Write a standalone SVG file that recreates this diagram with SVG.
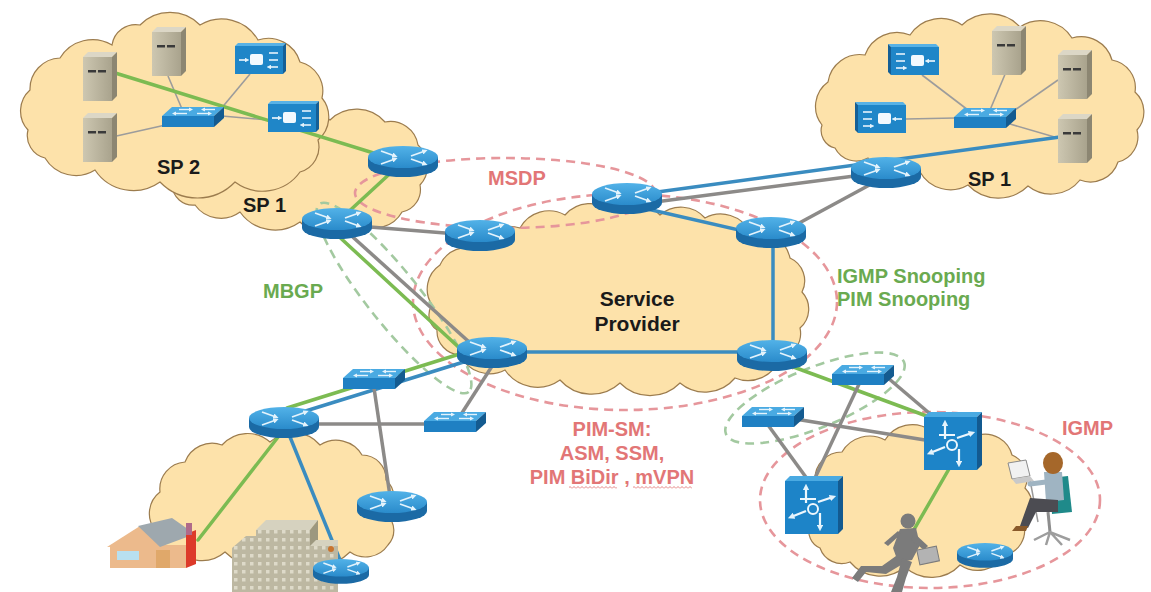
<svg xmlns="http://www.w3.org/2000/svg" width="1151" height="592" viewBox="0 0 1151 592">
<style>
  .cloud{fill:#fde2aa;stroke:#9c7c4e;stroke-width:1.2}
  .g{stroke:#7cbb52;stroke-width:3.5;fill:none;stroke-linecap:round}
  .b{stroke:#3a8cc0;stroke-width:3.5;fill:none}
  .k{stroke:#8c8a88;stroke-width:3.5;fill:none}
  .t{stroke:#9c9c9c;stroke-width:1.6;fill:none}
  .dr{fill:none;stroke:#e6969b;stroke-width:2.6;stroke-dasharray:9 6}
  .dg{fill:none;stroke:#a3c9a0;stroke-width:2.6;stroke-dasharray:9 6}
  .lbl{font-family:"Liberation Sans",Arial,sans-serif;font-weight:bold;font-size:20px}
  .red{fill:#e27676}
  .grn{fill:#6aaa50}
  .blk{fill:#1a1a1a}
</style>
<defs>
  <marker id="ah" viewBox="0 0 4 4" refX="2" refY="2" markerWidth="3" markerHeight="3" orient="auto">
    <path d="M0,0 L4,2 L0,4 z" fill="#e4f3fc"/>
  </marker>
  <linearGradient id="rtTop" x1="0" y1="0" x2="0" y2="1">
    <stop offset="0" stop-color="#52b2e8"/><stop offset="1" stop-color="#2a8bcb"/>
  </linearGradient>
  <linearGradient id="srvG" x1="0" y1="0" x2="1" y2="0">
    <stop offset="0" stop-color="#cdc7b1"/><stop offset="1" stop-color="#a9a38d"/>
  </linearGradient>
  <pattern id="wave" patternUnits="userSpaceOnUse" width="4" height="3">
    <path d="M0,2.5 L2,0.5 L4,2.5" fill="none" stroke="#e27676" stroke-width="0.9"/>
  </pattern>
  <pattern id="win" patternUnits="userSpaceOnUse" width="8" height="8">
    <rect width="8" height="8" fill="#bdb8a2"/>
    <rect x="2" y="2" width="3.5" height="3.5" fill="#dedac9"/>
  </pattern>

  <!-- router: cylinder with four arrows on the lid -->
  <g id="rt">
    <path d="M-35,-4 V5 A35,11 0 0 0 35,5 V-4 Z" fill="#1b6aa5"/>
    <ellipse cx="0" cy="-4" rx="35" ry="11" fill="url(#rtTop)"/>
    <g stroke="#e4f3fc" stroke-width="1.8" fill="none" marker-end="url(#ah)">
      <path d="M-22,-10 L-8,-5"/>
      <path d="M-22,3 L-8,-2"/>
      <path d="M8,-5 L22,-10"/>
      <path d="M8,-2 L22,3"/>
    </g>
  </g>

  <!-- workgroup switch -->
  <g id="sw">
    <polygon points="-31,-3 -21,-12 31,-12 21,-3" fill="#4aaae2"/>
    <polygon points="-31,-3 21,-3 21,8 -31,8" fill="#1f80c3"/>
    <polygon points="21,-3 31,-12 31,-1 21,8" fill="#145b90"/>
    <g stroke="#e4f3fc" stroke-width="1.4" fill="none" marker-end="url(#ah)">
      <path d="M-14,-9.5 L-2,-9.5"/>
      <path d="M22,-9.5 L10,-9.5"/>
      <path d="M-6,-5.5 L-19,-5.5"/>
      <path d="M4,-5.5 L17,-5.5"/>
    </g>
  </g>

  <!-- layer 3 switch -->
  <g id="l3">
    <polygon points="-27,-24 -22,-29 31,-29 26,-24" fill="#4aaae2"/>
    <rect x="-27" y="-24" width="53" height="53" fill="#1d84c8"/>
    <polygon points="26,-24 31,-29 31,24 26,29" fill="#135a90"/>
    <g stroke="#eef7fd" stroke-width="2.2" fill="none" marker-end="url(#ah)">
      <path d="M-6,-2 V-18"/>
      <path d="M-6,6 L-21,12"/>
      <path d="M6,-3 L21,-8"/>
      <path d="M8,8 V23"/>
    </g>
    <path d="M-12,-6 H4" stroke="#eef7fd" stroke-width="2"/>
    <circle cx="1" cy="4" r="5" fill="none" stroke="#eef7fd" stroke-width="2"/>
  </g>

  <!-- tower server (origin top-left) -->
  <g id="srv">
    <polygon points="0,5 5,0 34,0 29,5" fill="#dcd7c6"/>
    <rect x="0" y="5" width="29" height="44" fill="url(#srvG)"/>
    <polygon points="29,5 34,0 34,44 29,49" fill="#8c8672"/>
    <rect x="5" y="18" width="8" height="2.5" fill="#3a3a3a"/>
    <rect x="15" y="18" width="8" height="2.5" fill="#3a3a3a"/>
  </g>

  <!-- blue appliance -->
  <g id="dev">
    <rect x="-24" y="-14" width="48" height="28" fill="#1f86c8"/>
    <polygon points="-24,-14 -21,-17 27,-17 24,-14" fill="#58b2e6"/>
    <polygon points="24,-14 27,-17 27,11 24,14" fill="#155f96"/>
    <g stroke="#f2f9fe" stroke-width="1.6" fill="none">
      <path d="M-20,0 H-12" marker-end="url(#ah)"/>
      <path d="M19,-7 H10 M19,0 H10 M19,7 H10" marker-end="url(#ah)"/>
    </g>
    <rect x="-9" y="-6" width="13" height="11" rx="2" fill="#f2f9fe"/>
  </g>
</defs>

<rect width="1151" height="592" fill="#ffffff"/>

<!-- clouds -->
<g id="clouds">
  <path id="cloud-sp1-left" class="cloud" d="M172,185 A37,37 0 0 1 200,140 A50,50 0 0 1 270,128 A42,42 0 0 1 330,120 A38,38 0 0 1 385,122 A28,28 0 0 1 418,145 A28,28 0 0 1 420,185 A23,23 0 0 1 402,212 A31,31 0 0 1 360,224 A42,42 0 0 1 300,222 A43,43 0 0 1 240,212 A32,32 0 0 1 195,205 A21,21 0 0 1 172,185 Z"/>
  <path id="cloud-sp2" class="cloud" d="M28,130 A28,28 0 0 1 30,90 A31,31 0 0 1 60,58 A38,38 0 0 1 112,45 A24,24 0 0 1 140,25 A42,42 0 0 1 200,25 A42,42 0 0 1 258,40 A33,33 0 0 1 300,62 A30,30 0 0 1 322,98 A30,30 0 0 1 318,140 A26,26 0 0 1 300,172 A46,46 0 0 1 235,182 A52,52 0 0 1 160,182 A46,46 0 0 1 95,170 A36,36 0 0 1 45,158 A23,23 0 0 1 28,130 Z"/>
  <path id="cloud-core" class="cloud" d="M432,305 A29,29 0 0 1 440,265 A29,29 0 0 1 478,250 A33,33 0 0 1 520,228 A33,33 0 0 1 565,215 A33,33 0 0 1 612,212 A34,34 0 0 1 660,215 A32,32 0 0 1 705,218 A33,33 0 0 1 750,232 A34,34 0 0 1 790,258 A25,25 0 0 1 802,292 A25,25 0 0 1 800,328 A25,25 0 0 1 780,358 A34,34 0 0 1 735,378 A39,39 0 0 1 680,383 A42,42 0 0 1 620,383 A42,42 0 0 1 560,380 A39,39 0 0 1 505,370 A33,33 0 0 1 460,355 A24,24 0 0 1 437,330 A18,18 0 0 1 432,305 Z"/>
  <path id="cloud-sp1-right" class="cloud" d="M822,125 A30,30 0 0 1 828,82 A32,32 0 0 1 865,55 A34,34 0 0 1 910,35 A37,37 0 0 1 962,25 A41,41 0 0 1 1020,27 A37,37 0 0 1 1072,38 A32,32 0 0 1 1112,60 A28,28 0 0 1 1135,92 A27,27 0 0 1 1137,130 A26,26 0 0 1 1118,162 A29,29 0 0 1 1080,180 A37,37 0 0 1 1028,186 A42,42 0 0 1 968,185 A35,35 0 0 1 920,172 A35,35 0 0 1 868,158 A24,24 0 0 1 835,148 A18,18 0 0 1 822,125 Z"/>
  <path id="cloud-access-left" class="cloud" d="M155,530 A27,27 0 0 1 160,492 A27,27 0 0 1 185,462 A29,29 0 0 1 222,445 A34,34 0 0 1 270,442 A35,35 0 0 1 320,445 A30,30 0 0 1 362,455 A24,24 0 0 1 386,480 A24,24 0 0 1 387,515 A21,21 0 0 1 388,545 A27,27 0 0 1 350,552 A42,42 0 0 1 290,552 A46,46 0 0 1 225,552 A35,35 0 0 1 175,548 A19,19 0 0 1 155,530 Z"/>
  <path id="cloud-access-right" class="cloud" d="M810,525 A32,32 0 0 1 815,480 A27,27 0 0 1 842,452 A32,32 0 0 1 885,440 A32,32 0 0 1 930,430 A34,34 0 0 1 978,435 A28,28 0 0 1 1012,455 A25,25 0 0 1 1025,488 A26,26 0 0 1 1024,525 A25,25 0 0 1 1005,555 A32,32 0 0 1 960,565 A39,39 0 0 1 905,567 A39,39 0 0 1 850,562 A23,23 0 0 1 820,548 A18,18 0 0 1 810,525 Z"/>
</g>

<!-- protocol scopes -->
<g id="scopes">
  <ellipse id="scope-msdp" class="dr" cx="505" cy="193" rx="150" ry="35"/>
  <ellipse id="scope-pim" class="dr" cx="625" cy="302" rx="212" ry="108"/>
  <ellipse id="scope-mbgp" class="dg" cx="394" cy="298" rx="120" ry="26" transform="rotate(51.5 394 298)"/>
  <ellipse id="scope-snoop" class="dg" cx="815" cy="398" rx="96" ry="30" transform="rotate(-22 815 398)"/>
  <ellipse id="scope-igmp" class="dr" cx="930" cy="500" rx="170" ry="88"/>
</g>

<!-- connectors -->
<g id="links">
  <!-- SP 2 LAN -->
  <line class="t" x1="168" y1="76" x2="182" y2="109"/>
  <line class="t" x1="112" y1="137" x2="170" y2="124"/>
  <line class="t" x1="250" y1="74" x2="220" y2="110"/>
  <line class="t" x1="268" y1="120" x2="222" y2="116"/>
  <line class="g" x1="112" y1="72" x2="380" y2="155"/>
  <line class="g" x1="396" y1="168" x2="345" y2="215"/>
  <!-- SP 1 (right) LAN -->
  <line class="t" x1="922" y1="75" x2="968" y2="110"/>
  <line class="t" x1="906" y1="119" x2="955" y2="118"/>
  <line class="t" x1="1006" y1="72" x2="990" y2="110"/>
  <line class="t" x1="1058" y1="80" x2="1012" y2="112"/>
  <line class="t" x1="1058" y1="138" x2="1010" y2="124"/>
  <!-- core -->
  <line class="b" x1="650" y1="193" x2="1060" y2="137"/>
  <line class="k" x1="655" y1="202" x2="870" y2="174"/>
  <line class="k" x1="875" y1="182" x2="790" y2="228"/>
  <line class="b" x1="630" y1="205" x2="765" y2="236"/>
  <line class="b" x1="773" y1="240" x2="773" y2="350"/>
  <line class="b" x1="495" y1="352" x2="772" y2="352"/>
  <line class="k" x1="345" y1="225" x2="470" y2="235"/>
  <line class="k" x1="345" y1="230" x2="478" y2="350"/>
  <line class="g" x1="334" y1="232" x2="466" y2="354"/>
  <!-- left access -->
  <line class="g" x1="466" y1="352" x2="287" y2="408"/>
  <line class="b" x1="470" y1="360" x2="296" y2="414"/>
  <line class="k" x1="374" y1="388" x2="390" y2="496"/>
  <line class="k" x1="310" y1="424" x2="430" y2="424"/>
  <line class="k" x1="496" y1="360" x2="460" y2="416"/>
  <line class="g" x1="282" y1="432" x2="198" y2="540"/>
  <line class="b" x1="288" y1="432" x2="342" y2="565"/>
  <!-- right access -->
  <line class="g" x1="780" y1="362" x2="932" y2="418"/>
  <line class="k" x1="860" y1="382" x2="815" y2="478"/>
  <line class="k" x1="888" y1="378" x2="935" y2="418"/>
  <line class="k" x1="795" y1="419" x2="925" y2="440"/>
  <line class="k" x1="768" y1="425" x2="808" y2="480"/>
  <line class="g" x1="953" y1="462" x2="908" y2="540"/>
</g>

<!-- house -->
<g id="house">
  <polygon points="107,547 140,526 162,546" fill="#ecba8c"/>
  <rect x="110" y="545" width="76" height="23" fill="#ecba8c"/>
  <polygon points="138,526 172,518 195,534 160,547" fill="#9ea8ae"/>
  <polygon points="186,534 196,530 196,564 186,568" fill="#dd3a2a"/>
  <rect x="186" y="523" width="6" height="12" fill="#b06a8a"/>
  <rect x="117" y="551" width="22" height="9" fill="#b8e0f0"/>
  <rect x="156" y="550" width="14" height="18" fill="#e0a86a"/>
</g>

<!-- office building -->
<g id="building">
  <polygon points="232,548 246,536 262,536 262,592 232,592" fill="url(#win)"/>
  <polygon points="256,530 266,520 318,520 310,530" fill="#d6d2bf"/>
  <rect x="256" y="530" width="54" height="62" fill="url(#win)"/>
  <polygon points="310,530 318,520 318,592 310,592" fill="#9d987f"/>
  <rect x="310" y="546" width="28" height="46" fill="url(#win)"/>
  <polygon points="310,546 316,540 338,540 338,546" fill="#d6d2bf"/>
  <circle cx="331" cy="549" r="3" fill="#c8742e"/>
</g>

<!-- SP 2 site -->
<g id="srv-sp2-a"><use href="#srv" transform="translate(83,52)"/></g>
<g id="srv-sp2-b"><use href="#srv" transform="translate(152,27)"/></g>
<g id="srv-sp2-c"><use href="#srv" transform="translate(83,113)"/></g>
<g id="sw-sp2"><use href="#sw" transform="translate(193,119)"/></g>
<g id="dev-sp2-a"><use href="#dev" transform="translate(259,60)"/></g>
<g id="dev-sp2-b"><use href="#dev" transform="translate(292,118)"/></g>

<!-- SP 1 (right) site -->
<g id="srv-sp1-a"><use href="#srv" transform="translate(992,26)"/></g>
<g id="srv-sp1-b"><use href="#srv" transform="translate(1058,50)"/></g>
<g id="srv-sp1-c"><use href="#srv" transform="translate(1058,114)"/></g>
<g id="sw-sp1"><use href="#sw" transform="translate(985,120)"/></g>
<g id="dev-sp1-a"><use href="#dev" transform="translate(915,61) scale(-1,1)"/></g>
<g id="dev-sp1-b"><use href="#dev" transform="translate(882,119) scale(-1,1)"/></g>

<!-- routers -->
<g id="r-sp1-edge"><use href="#rt" transform="translate(403,161)"/></g>
<g id="r-sp1-border"><use href="#rt" transform="translate(337,223)"/></g>
<g id="r-core-1"><use href="#rt" transform="translate(480,235)"/></g>
<g id="r-core-2"><use href="#rt" transform="translate(627,198)"/></g>
<g id="r-core-3"><use href="#rt" transform="translate(771,232)"/></g>
<g id="r-sp1-right"><use href="#rt" transform="translate(886,172)"/></g>
<g id="r-core-4"><use href="#rt" transform="translate(492,352)"/></g>
<g id="r-core-5"><use href="#rt" transform="translate(772,355)"/></g>
<g id="r-access-1"><use href="#rt" transform="translate(284,422)"/></g>
<g id="r-access-2"><use href="#rt" transform="translate(392,506)"/></g>
<g id="r-access-3"><use href="#rt" transform="translate(341,571) scale(0.8)"/></g>
<g id="r-access-4"><use href="#rt" transform="translate(985,555) scale(0.8)"/></g>

<!-- access switches -->
<g id="sw-access-1"><use href="#sw" transform="translate(374,381)"/></g>
<g id="sw-access-2"><use href="#sw" transform="translate(455,424)"/></g>
<g id="sw-snoop-1"><use href="#sw" transform="translate(863,377)"/></g>
<g id="sw-snoop-2"><use href="#sw" transform="translate(773,419)"/></g>
<g id="l3-a"><use href="#l3" transform="translate(951,441)"/></g>
<g id="l3-b"><use href="#l3" transform="translate(812,505)"/></g>

<!-- mobile user -->
<g id="user-mobile" fill="#7b7b7b">
  <circle cx="908" cy="521" r="7.5"/>
  <path d="M900,529 L916,528 L920,545 L912,560 L898,562 L893,548 Z"/>
  <path d="M914,533 L928,546 L924,550 L911,540 Z"/>
  <path d="M901,534 L888,546 L884,543 L898,531 Z"/>
  <path d="M896,556 L906,562 L886,574 L866,572 L858,582 L852,578 L861,566 L882,566 Z"/>
  <path d="M902,558 L912,562 L906,578 L902,592 L891,592 L897,577 Z"/>
  <rect x="918" y="548" width="20" height="15" fill="#b3b3b3" stroke="#7b7b7b" stroke-width="1" transform="rotate(-12 928 555)"/>
</g>

<!-- desk user -->
<g id="user-desk">
  <path d="M1030,480 L1038,522" stroke="#9a9a9a" stroke-width="1.5"/>
  <polygon points="1008,463 1026,460 1030,476 1012,479" fill="#f1f1f1" stroke="#8a8a8a" stroke-width="1"/>
  <polygon points="1012,479 1030,476 1034,481 1016,484" fill="#c9c9c9"/>
  <path d="M1048,512 L1050,532" stroke="#8d8d8d" stroke-width="3"/>
  <path d="M1034,540 L1050,532 L1070,540 M1050,532 L1046,545 M1050,532 L1062,545" stroke="#9d9d9d" stroke-width="2.5" fill="none"/>
  <polygon points="1050,478 1068,476 1072,512 1052,514" fill="#1f8a8a"/>
  <polygon points="1044,472 1062,472 1064,500 1046,502" fill="#9fb4c2"/>
  <path d="M1046,482 L1030,484" stroke="#9fb4c2" stroke-width="5" stroke-linecap="round"/>
  <polygon points="1030,498 1058,500 1058,512 1036,512 1028,528 1020,526" fill="#4c4c52"/>
  <polygon points="1016,526 1028,526 1026,531 1012,531" fill="#8a5a2a"/>
  <ellipse cx="1053" cy="463" rx="10" ry="11" fill="#a5672a"/>
</g>

<!-- labels -->
<g id="labels" class="lbl">
  <text class="blk" x="157" y="174">SP 2</text>
  <text class="blk" x="243" y="212">SP 1</text>
  <text class="blk" x="968" y="186">SP 1</text>
  <text class="red" x="488" y="185">MSDP</text>
  <text class="blk" x="637" y="306" text-anchor="middle" font-size="21">Service</text>
  <text class="blk" x="637" y="331" text-anchor="middle" font-size="21">Provider</text>
  <text class="grn" x="263" y="298">MBGP</text>
  <text class="grn" x="837" y="283">IGMP Snooping</text>
  <text class="grn" x="837" y="306">PIM Snooping</text>
  <text class="red" x="1062" y="435">IGMP</text>
  <text class="red" x="612" y="436" text-anchor="middle">PIM-SM:</text>
  <text class="red" x="612" y="460" text-anchor="middle">ASM, SSM,</text>
  <text class="red" x="612" y="484" text-anchor="middle">PIM BiDir , mVPN</text>
</g>
<g id="spell-marks">
  <rect x="569" y="486" width="48" height="3" fill="url(#wave)"/>
  <rect x="633" y="486" width="59" height="3" fill="url(#wave)"/>
</g>
</svg>
